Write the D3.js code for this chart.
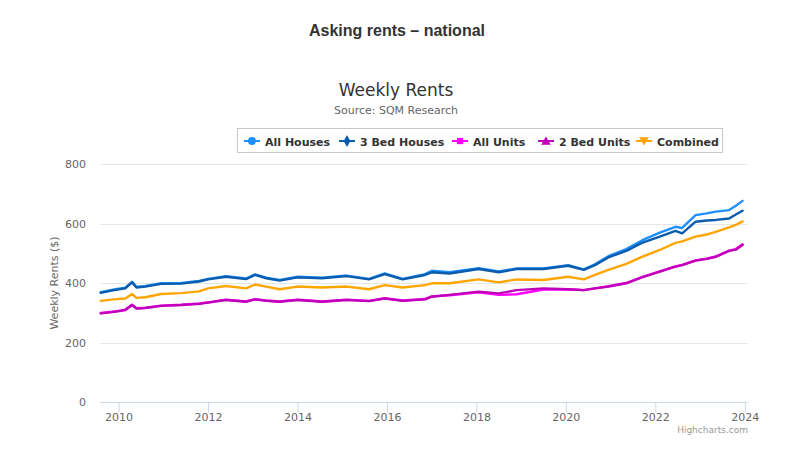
<!DOCTYPE html>
<html>
<head>
<meta charset="utf-8">
<script src="https://cdn.jsdelivr.net/npm/d3@7"></script>
<style>
  html, body { margin: 0; padding: 0; background: #fff; }
  svg { display: block; }
  text { font-family: "DejaVu Sans", "Noto Sans", sans-serif; }
</style>
</head>
<body>
<svg id="chart" width="800" height="460"></svg>
<script>
// ---- Data ----
const years = [2009.6, 2009.9, 2010.15, 2010.3, 2010.4, 2010.6, 2010.95, 2011.4, 2011.8, 2012.0,
  2012.4, 2012.85, 2013.05, 2013.3, 2013.6, 2014.0, 2014.55, 2015.1, 2015.6, 2015.95,
  2016.35, 2016.85, 2017.0, 2017.4, 2018.05, 2018.5, 2018.9, 2019.5, 2020.05, 2020.4,
  2020.65, 2020.95, 2021.35, 2021.7, 2022.1, 2022.45, 2022.6, 2022.9, 2023.15, 2023.35, 2023.65, 2023.8, 2023.95];

const allHouses = [369, 378, 384, 404, 387, 390, 399, 400, 407, 414,
  423, 415, 429, 418, 410, 421, 418, 425, 414, 432,
  414, 430, 441, 436, 450, 439, 449, 449, 460, 446,
  463, 490, 514, 543, 569, 589, 585, 628, 634, 640, 645, 660, 676];

const threeBedHouses = [367, 376, 382, 402, 385, 388, 397, 398, 405, 412,
  421, 413, 427, 416, 408, 419, 416, 423, 412, 430,
  412, 427, 436, 432, 447, 436, 447, 447, 458, 444,
  460, 486, 508, 535, 556, 575, 567, 606, 610, 612, 617, 630, 643];

const allUnits = [299, 304, 310, 327, 315, 317, 324, 327, 331, 335,
  344, 338, 346, 341, 338, 344, 338, 344, 340, 349,
  341, 346, 355, 359, 369, 360, 362, 378, 379, 376,
  382, 389, 400, 420, 439, 456, 461, 476, 482, 489, 509, 514, 530];

const twoBedUnits = [298, 303, 309, 326, 314, 316, 323, 326, 330, 334,
  343, 337, 345, 340, 337, 343, 337, 343, 339, 348,
  340, 345, 354, 360, 371, 365, 376, 382, 379, 376,
  382, 388, 399, 419, 438, 455, 460, 475, 481, 488, 508, 512, 528];

const combined = [340, 345, 348, 363, 350, 352, 363, 366, 372, 382,
  390, 382, 395, 388, 379, 388, 385, 388, 379, 393,
  385, 393, 399, 399, 412, 402, 412, 410, 421, 412,
  427, 444, 464, 488, 511, 535, 540, 556, 563, 572, 587, 595, 607];

const seriesNames = ["All Houses", "3 Bed Houses", "All Units", "2 Bed Units", "Combined"];
const seriesColors = ["#1e90ff", "#0b5cad", "#ff00ff", "#c000b8", "#ffa500"];
const seriesValues = [allHouses, threeBedHouses, allUnits, twoBedUnits, combined];
const seriesSymbols = [d3.symbolCircle, d3.symbolDiamond, d3.symbolSquare, d3.symbolTriangle, d3.symbolTriangle];

const yTicks = [0, 200, 400, 600, 800];
const xTicks = [2010, 2012, 2014, 2016, 2018, 2020, 2022, 2024];

// ---- Layout ----
const svg = d3.select("#chart");
const plot = { left: 100, right: 748, top: 164, bottom: 402 };

const x = d3.scaleLinear().domain([2009.584, 2024.072]).range([plot.left, plot.right]);
const y = d3.scaleLinear().domain([0, 800]).range([plot.bottom, plot.top]);

// Page title
svg.append("text").attr("x", 397).attr("y", 36).attr("text-anchor", "middle")
  .style("font-family", "'Liberation Sans', Arial, sans-serif")
  .style("font-size", "16px").style("font-weight", "bold").attr("fill", "#333")
  .text("Asking rents – national");

// Chart title & subtitle
svg.append("text").attr("x", 396).attr("y", 96).attr("text-anchor", "middle")
  .style("font-size", "17px").attr("fill", "#333333").text("Weekly Rents");
svg.append("text").attr("x", 396).attr("y", 114).attr("text-anchor", "middle")
  .style("font-size", "11px").attr("fill", "#666666").text("Source: SQM Research");

// Grid lines
svg.append("g").selectAll("line").data(yTicks.filter(d => d > 0)).join("line")
  .attr("x1", plot.left).attr("x2", plot.right)
  .attr("y1", d => Math.round(y(d)) + 0.5).attr("y2", d => Math.round(y(d)) + 0.5)
  .attr("stroke", "#e6e6e6").attr("stroke-width", 1);

// Y axis (labels only)
const yAxis = d3.axisLeft(y).tickValues(yTicks).tickSize(0).tickPadding(0).tickFormat(d3.format("d"));
const yg = svg.append("g").attr("transform", `translate(${plot.left - 14},0)`).call(yAxis);
yg.select(".domain").remove();
yg.selectAll("text").style("font-size", "11px").attr("fill", "#666666")
  .style("font-family", "'DejaVu Sans', sans-serif");

// Y axis title
svg.append("text").attr("transform", `translate(58,${(plot.top + plot.bottom) / 2}) rotate(-90)`)
  .attr("text-anchor", "middle").style("font-size", "11px").attr("fill", "#666666")
  .text("Weekly Rents ($)");

// X axis
const xAxis = d3.axisBottom(x).tickValues(xTicks).tickSize(10).tickPadding(1).tickFormat(d3.format("d"));
const xg = svg.append("g").attr("transform", `translate(0,${plot.bottom + 0.5})`).call(xAxis);
xg.select(".domain").attr("d", `M${plot.left},0H${plot.right}`).attr("stroke", "#ccd6eb");
xg.selectAll(".tick line").attr("stroke", "#ccd6eb");
xg.selectAll("text").style("font-size", "11px").attr("fill", "#666666")
  .style("font-family", "'DejaVu Sans', sans-serif");

// Series lines
const line = d3.line().x((d, i) => x(years[i])).y(d => y(d)).curve(d3.curveLinear);
svg.append("g").selectAll("path").data(seriesValues).join("path")
  .attr("d", d => line(d))
  .attr("fill", "none")
  .attr("stroke", (d, i) => seriesColors[i])
  .attr("stroke-width", 2.4)
  .attr("stroke-linejoin", "round").attr("stroke-linecap", "round");

// Legend
const legend = svg.append("g");
legend.append("rect").attr("x", 237.5).attr("y", 128.5).attr("width", 485).attr("height", 24)
  .attr("fill", "none").attr("stroke", "#c8c8c8");
const itemX = [244, 339, 452, 538, 636];
seriesNames.forEach((name, i) => {
  const g = legend.append("g").attr("transform", `translate(${itemX[i]},141)`);
  g.append("line").attr("x1", 0).attr("x2", 16).attr("y1", 0).attr("y2", 0)
    .attr("stroke", seriesColors[i]).attr("stroke-width", 2);
  const sym = d3.symbol().type(seriesSymbols[i]).size(i === 0 ? 50 : 40);
  g.append("path").attr("d", sym())
    .attr("transform", `translate(8,${i === 3 ? 1 : (i === 4 ? -1 : 0)})` + (i === 4 ? " rotate(180)" : ""))
    .attr("fill", seriesColors[i]);
  g.append("text").attr("x", 21).attr("y", 4.5)
    .style("font-size", "11px").style("font-weight", "bold").attr("fill", "#333333")
    .text(name);
});

// Credits
svg.append("text").attr("x", 748).attr("y", 433).attr("text-anchor", "end")
  .style("font-size", "9px").attr("fill", "#999999").text("Highcharts.com");
</script>
</body>
</html>
